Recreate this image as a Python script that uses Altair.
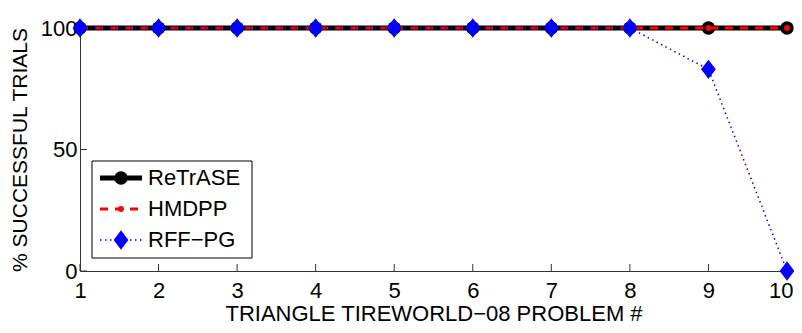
import altair as alt
import pandas as pd

# ---- data ----
problems = [1, 2, 3, 4, 5, 6, 7, 8, 9, 10]
retrase = [100, 100, 100, 100, 100, 100, 100, 100, 100, 100]
hmdpp = [100, 100, 100, 100, 100, 100, 100, 100, 100, 100]
rff_pg = [100, 100, 100, 100, 100, 100, 100, 100, 83, 0]
series_names = ["ReTrASE", "HMDPP", "RFF\u2212PG"]
y_tick_values = [0, 50, 100]

# ---- layout / style ----
W, H = 707, 243
FONT = "Liberation Sans"
DIAMOND = "M0,-1.25L0.95,0L0,1.25L-0.95,0Z"
AXIS_COLOR = "#333333"


def frame(vals):
    return pd.DataFrame({"problem": problems, "value": vals})


x_enc = alt.X(
    "problem:Q",
    scale=alt.Scale(domain=[1, 10], nice=False, zero=False),
    axis=alt.Axis(
        values=problems,
        format="d",
        title="TRIANGLE TIREWORLD\u221208 PROBLEM #",
        labelPadding=9,
        labelFlush=True,
        labelFlushOffset=6,
        titleX=W / 2,
        titleY=49,
        titleBaseline="alphabetic",
        titleAlign="center",
    ),
)
y_enc = alt.Y(
    "value:Q",
    scale=alt.Scale(domain=[0, 100], nice=False),
    axis=alt.Axis(
        values=y_tick_values,
        title="% SUCCESSFUL TRIALS",
        labelPadding=3,
        labelFlush=False,
        titleX=-60,
        titleY=H / 2,
        titleFontSize=21,
        titleBaseline="middle",
        titleAlign="center",
        titleAngle=270,
    ),
)

layers = []

# inward ticks
layers.append(
    alt.Chart(pd.DataFrame({"problem": problems}))
    .mark_rule(color=AXIS_COLOR, strokeWidth=1)
    .encode(x=x_enc, y=alt.value(H), y2=alt.value(H - 7))
)
layers.append(
    alt.Chart(pd.DataFrame({"value": y_tick_values}))
    .mark_rule(color=AXIS_COLOR, strokeWidth=1)
    .encode(y=y_enc, x=alt.value(0), x2=alt.value(7))
)

# series styles
styles = [
    dict(line=dict(color="black", strokeWidth=5),
         point=dict(shape="circle", color="black", size=180)),
    dict(line=dict(color="#ff0000", strokeWidth=3, strokeDash=[8, 7]),
         point=dict(shape="circle", color="#ff0000", size=35)),
    dict(line=dict(color="#0000ff", strokeWidth=1.5, strokeDash=[1.5, 3.5]),
         point=dict(shape=DIAMOND, color="#0000ff", size=240)),
]
series_values = [retrase, hmdpp, rff_pg]

for vals, st in zip(series_values, styles):
    df = frame(vals)
    layers.append(alt.Chart(df).mark_line(**st["line"]).encode(x=x_enc, y=y_enc))
    layers.append(
        alt.Chart(df)
        .mark_point(filled=True, opacity=1, **st["point"])
        .encode(x=x_enc, y=y_enc)
    )

# custom legend
one = alt.Data(values=[{}])
layers.append(
    alt.Chart(one)
    .mark_rect(fill="white", stroke="black", strokeWidth=1)
    .encode(x=alt.value(12), x2=alt.value(172), y=alt.value(133), y2=alt.value(230))
)
for i, (name, st) in enumerate(zip(series_names, styles)):
    ly = 150 + 31 * i
    layers.append(
        alt.Chart(one).mark_rule(**st["line"])
        .encode(x=alt.value(20), x2=alt.value(62), y=alt.value(ly))
    )
    layers.append(
        alt.Chart(one).mark_point(filled=True, opacity=1, **st["point"])
        .encode(x=alt.value(41), y=alt.value(ly))
    )
    layers.append(
        alt.Chart(one)
        .mark_text(text=name, align="left", baseline="middle", font=FONT, fontSize=22, color="black")
        .encode(x=alt.value(68), y=alt.value(ly))
    )

chart = (
    alt.layer(*layers)
    .properties(
        width=W,
        height=H,
        autosize=alt.AutoSizeParams(type="none"),
        padding={"left": 72, "top": 20, "right": 7, "bottom": 54},
    )
    .configure_view(stroke=None)
    .configure_axis(
        domainColor=AXIS_COLOR,
        domainWidth=1,
        ticks=False,
        tickSize=0,
        grid=False,
        labelFont=FONT,
        labelFontSize=22,
        labelColor="black",
        labelOverlap=False,
        titleFont=FONT,
        titleFontSize=22,
        titleFontWeight="normal",
        titleColor="black",
    )
)

chart.save("out.html", embed_options={"renderer": "svg", "actions": False})
